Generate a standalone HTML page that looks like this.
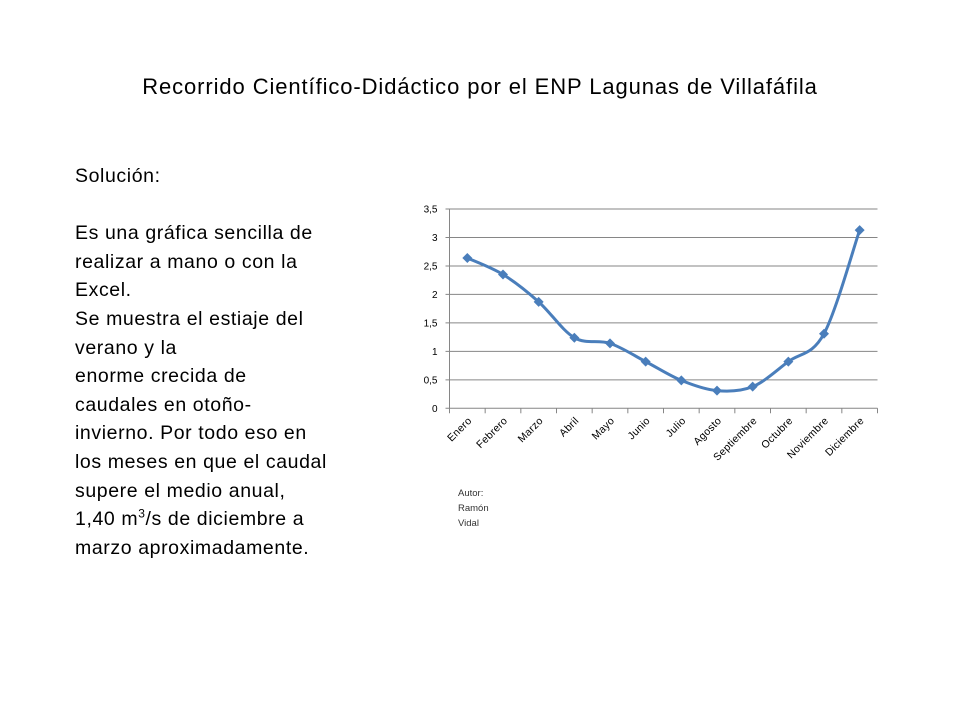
<!DOCTYPE html>
<html><head><meta charset="utf-8"><style>
body{margin:0;width:960px;height:720px;background:#fff;font-family:"Liberation Sans",sans-serif;position:relative;overflow:hidden}
#title{position:absolute;left:0;width:960px;top:74px;text-align:center;font-size:22px;letter-spacing:0.9px;color:#000;white-space:nowrap}
#body{position:absolute;left:75px;top:162px;font-size:19.5px;letter-spacing:0.6px;line-height:28.6px;color:#000;white-space:nowrap}
#chart{position:absolute;left:0;top:0}
</style></head><body>
<div id="title">Recorrido Científico-Didáctico por el ENP Lagunas de Villafáfila</div>
<div id="body">Solución:<br><br>Es una gráfica sencilla de<br>realizar a mano o con la<br>Excel.<br>Se muestra el estiaje del<br>verano y la<br>enorme crecida de<br>caudales en otoño-<br>invierno. Por todo eso en<br>los meses en que el caudal<br>supere el medio anual,<br>1,40 m<sup style="font-size:12px;line-height:0">3</sup>/s de diciembre a<br>marzo aproximadamente.</div>
<svg id="chart" width="960" height="720"></svg>
<script>
const categories=["Enero","Febrero","Marzo","Abril","Mayo","Junio","Julio","Agosto","Septiembre","Octubre","Noviembre","Diciembre"];
const values=[2.64,2.35,1.87,1.24,1.14,0.82,0.49,0.31,0.38,0.82,1.31,3.13];
const yTicks=[0,0.5,1,1.5,2,2.5,3,3.5];
const yTickLabels=["0","0,5","1","1,5","2","2,5","3","3,5"];
const NS="http://www.w3.org/2000/svg";
const svg=document.getElementById('chart');
const L=449.5,R=877.5,T=209,B=408.3,yMax=3.5;
const bw=(R-L)/categories.length;
const x=i=>L+bw*(i+0.5);
const y=v=>B-(v/yMax)*(B-T);
function mk(t,a){const e=document.createElementNS(NS,t);for(const k in a)e.setAttribute(k,a[k]);svg.appendChild(e);return e;}
yTicks.forEach((v,i)=>{
 const g=mk('line',{x1:L-4,x2:R,y1:y(v),y2:y(v),stroke:'#868686','stroke-width':1});
 
 
 const t=mk('text',{x:L-12,y:y(v)+3.5,'text-anchor':'end','font-size':10,fill:'#000','font-family':'Liberation Sans,sans-serif'});
 t.textContent=yTickLabels[i];
 
 
});
const ax=mk('line',{x1:L,x2:L,y1:T,y2:B,stroke:'#868686'});


for(let i=0;i<=categories.length;i++){
 const tk=mk('line',{x1:L+bw*i,x2:L+bw*i,y1:B,y2:B+5,stroke:'#868686'});
 
 
}
categories.forEach((c,i)=>{
 const tx=x(i)+5,ty=B+13;
 const t=mk('text',{x:tx,y:ty,'text-anchor':'end','font-size':10.5,'letter-spacing':0.3,fill:'#000','font-family':'Liberation Sans,sans-serif',transform:`rotate(-45 ${tx} ${ty})`});
 t.textContent=c;
 
 
});
const P=values.map((v,i)=>[x(i),y(v)]);
let d=`M${P[0][0]},${P[0][1]}`;
for(let i=0;i<P.length-1;i++){
 const p0=P[i-1]||P[i],p1=P[i],p2=P[i+1],p3=P[i+2]||P[i+1],k=6;
 d+=` C${p1[0]+(p2[0]-p0[0])/k},${p1[1]+(p2[1]-p0[1])/k} ${p2[0]-(p3[0]-p1[0])/k},${p2[1]-(p3[1]-p1[1])/k} ${p2[0]},${p2[1]}`;
}
const line=mk('path',{d:d,fill:'none',stroke:'#4a7ebb','stroke-width':3});


P.forEach(p=>{
 const m=mk('path',{d:`M${p[0]},${p[1]-5} L${p[0]+5},${p[1]} L${p[0]},${p[1]+5} L${p[0]-5},${p[1]} Z`,fill:'#4a7ebb'});
 
 
});
['Autor:','Ramón','Vidal'].forEach((s,i)=>{
 const t=mk('text',{x:458,y:496+i*15,'font-size':9.5,fill:'#333','font-family':'Liberation Sans,sans-serif'});
 t.textContent=s;
 
 
});
</script>
</body></html>
